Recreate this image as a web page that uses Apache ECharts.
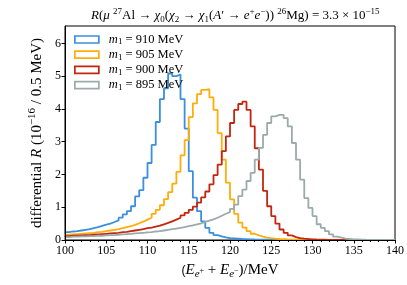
<!DOCTYPE html>
<html><head><meta charset="utf-8">
<script src="https://cdn.jsdelivr.net/npm/echarts@6/dist/echarts.min.js"></script>
<style>html,body{margin:0;padding:0;background:#fff}#c{width:407px;height:285px}</style>
</head><body><div id="c"></div>
<script>
// bin left edges: 100.0, 100.5, ..., 139.5 (bin width 0.5 MeV)
const binStart = 100, binWidth = 0.5;
const m910 = [0.24,0.26,0.27,0.29,0.31,0.33,0.36,0.39,0.43,0.47,
  0.50,0.55,0.60,0.68,0.78,0.88,1.03,1.33,1.52,1.90,
  2.35,2.90,3.60,4.30,4.63,5.08,5.00,5.05,4.30,3.40,
  2.10,1.29,0.88,0.57,0.37,0.22,0.15,0.11,0.08,0.06,
  0.05,0.04,0.03,0.025,0.02,0.016,0.013,0.01,0.008,0.006,
  0.005,0.004,0.003,0.002,0.002,0.001,0.001,0,0,0,
  0,0,0,0,0,0,0,0,0,0, 0,0,0,0,0,0,0,0,0,0];
const m905 = [0.16,0.17,0.18,0.19,0.20,0.21,0.22,0.24,0.25,0.27,
  0.29,0.31,0.33,0.36,0.39,0.42,0.46,0.51,0.56,0.62,
  0.68,0.80,0.92,1.06,1.25,1.46,1.72,2.08,2.58,3.05,
  3.75,4.17,4.45,4.58,4.60,4.35,3.97,3.26,2.45,1.75,
  1.24,0.80,0.53,0.38,0.27,0.19,0.14,0.10,0.075,0.055,
  0.04,0.03,0.024,0.018,0.014,0.01,0.008,0.006,0.004,0.003,
  0.002,0.002,0.001,0.001,0,0,0,0,0,0, 0,0,0,0,0,0,0,0,0,0];
const m900 = [0.12,0.13,0.13,0.14,0.15,0.15,0.16,0.17,0.18,0.19,
  0.20,0.21,0.22,0.24,0.25,0.27,0.29,0.31,0.33,0.36,
  0.38,0.41,0.44,0.48,0.52,0.57,0.62,0.68,0.75,0.83,
  0.92,1.02,1.14,1.30,1.48,1.70,1.98,2.30,2.71,3.16,
  3.57,3.97,4.15,4.22,3.97,3.47,2.80,2.15,1.50,1.03,
  0.73,0.50,0.32,0.22,0.14,0.09,0.06,0.04,0.03,0.022,
  0.016,0.012,0.009,0.006,0.004,0.003,0.002,0.001,0,0, 0,0,0,0,0,0,0,0,0,0];
const m895 = [0.09,0.10,0.10,0.11,0.11,0.12,0.12,0.13,0.13,0.14,
  0.15,0.15,0.16,0.17,0.18,0.19,0.20,0.21,0.22,0.23,
  0.24,0.26,0.27,0.29,0.31,0.33,0.35,0.37,0.39,0.42,
  0.45,0.48,0.51,0.55,0.59,0.63,0.68,0.74,0.80,0.85,
  0.95,1.08,1.34,1.54,1.80,2.05,2.45,2.81,3.21,3.57,
  3.77,3.82,3.82,3.72,3.47,2.96,2.45,1.84,1.28,0.98,
  0.73,0.48,0.37,0.27,0.17,0.10,0.07,0.04,0.03,0.02,
  0.015,0.01,0.007,0.005,0.003,0.002,0.001,0,0,0];
const seriesNames = ['910','905','900','895'];
const seriesColors = ['#3b8fdc','#ffad0a','#c3260f','#9babaa'];
const xTicks = [100,105,110,115,120,125,130,135,140];
const yTicks = [0,1,2,3,4,5,6];

const allData = [m910, m905, m900, m895];
function toSteps(vals){
  const pts = vals.map((v,i)=>[binStart + i*binWidth, v]);
  pts.unshift([binStart, 0]);
  pts.push([binStart + vals.length*binWidth, vals[vals.length-1]]);
  return pts;
}
const SERIF = 'Liberation Serif';
function mk(fs, lh){
  return {
    n:{fontFamily:SERIF,fontSize:fs,fontWeight:'normal',color:'#000',lineHeight:lh,verticalAlign:'middle'},
    it:{fontFamily:SERIF,fontSize:fs,fontStyle:'italic',fontWeight:'normal',color:'#000',lineHeight:lh,verticalAlign:'middle'},
    sup:{fontFamily:SERIF,fontSize:Math.round(fs*0.7),fontWeight:'normal',color:'#000',lineHeight:lh,verticalAlign:'top'},
    sub:{fontFamily:SERIF,fontSize:Math.round(fs*0.7),fontWeight:'normal',color:'#000',lineHeight:lh,verticalAlign:'bottom'},
    subi:{fontFamily:SERIF,fontSize:Math.round(fs*0.7),fontStyle:'italic',fontWeight:'normal',color:'#000',lineHeight:lh,verticalAlign:'bottom'},
    ssup:{fontFamily:SERIF,fontSize:Math.round(fs*0.5),fontWeight:'normal',color:'#000',lineHeight:lh,verticalAlign:'middle'}
  };
}
const chart = echarts.init(document.getElementById('c'), null, {renderer:'canvas'});
chart.setOption({
  backgroundColor:'#fff',
  animation:false,
  title:{
    text:'{it|R}{n|(}{it|μ }{sup|27}{n|Al → }{it|χ}{sub|0}{n|(}{it|χ}{sub|2}{n| → }{it|χ}{sub|1}{n|(}{it|A}{n|′ → }{it|e}{sup|+}{it|e}{sup|−}{n|)) }{sup|26}{n|Mg) = 3.3 × 10}{sup|−15}',
    left:86, top:2,
    textStyle:{fontWeight:'normal', rich:mk(13,17)}
  },
  legend:{
    orient:'vertical', left:69, top:28, itemWidth:24, itemHeight:7, itemGap:1.7,
    data: seriesNames.map((n,i)=>({name:n, icon:'rect', itemStyle:{color:'rgba(0,0,0,0)', borderColor:seriesColors[i], borderWidth:1.7}})),
    formatter: n => '{it|m}{sub|1}{n| = ' + n + ' MeV}',
    textStyle:{rich:mk(12.5,14), padding:[0,0,0,5]}
  },
  grid:{left:65, right:12, top:26, bottom:44, show:true, borderColor:'#000', borderWidth:1, backgroundColor:'transparent'},
  xAxis:{
    type:'value', min:100, max:140, interval:5, z:5,
    axisLine:{lineStyle:{color:'#000',width:1}},
    axisTick:{length:3.5, lineStyle:{color:'#000'}, customValues:xTicks},
    minorTick:{show:true, splitNumber:5, length:2, lineStyle:{color:'#000'}},
    splitLine:{show:false},
    axisLabel:{fontFamily:SERIF, fontSize:12, color:'#000', margin:5, customValues:xTicks},
    name:'({it|E}{subi|e}{ssup|+}{n| + }{it|E}{subi|e}{ssup|−}{n|)/MeV}',
    nameLocation:'middle', nameGap:21,
    nameTextStyle:{rich:mk(15,19)}
  },
  yAxis:{
    type:'value', min:0, max:6.53, interval:1, z:5,
    axisLine:{show:true, lineStyle:{color:'#000',width:1}},
    axisTick:{show:true, length:3.5, lineStyle:{color:'#000'}, customValues:yTicks},
    splitLine:{show:false},
    axisLabel:{fontFamily:SERIF, fontSize:12, color:'#000', margin:4, customValues:yTicks},
    name:'{n|differential }{it|R}{n| (10}{sup|−16}{n| / 0.5 MeV)}',
    nameLocation:'middle', nameGap:17, nameRotate:90,
    nameTextStyle:{rich:mk(15,19)}
  },
  series: allData.map((d,i)=>({
    name:seriesNames[i], type:'line', step:'end', showSymbol:false, symbol:'none',
    data:toSteps(d), clip:true,
    lineStyle:{color:seriesColors[i], width:1.8}, itemStyle:{color:seriesColors[i]},
    z:2
  }))
});
</script></body></html>
